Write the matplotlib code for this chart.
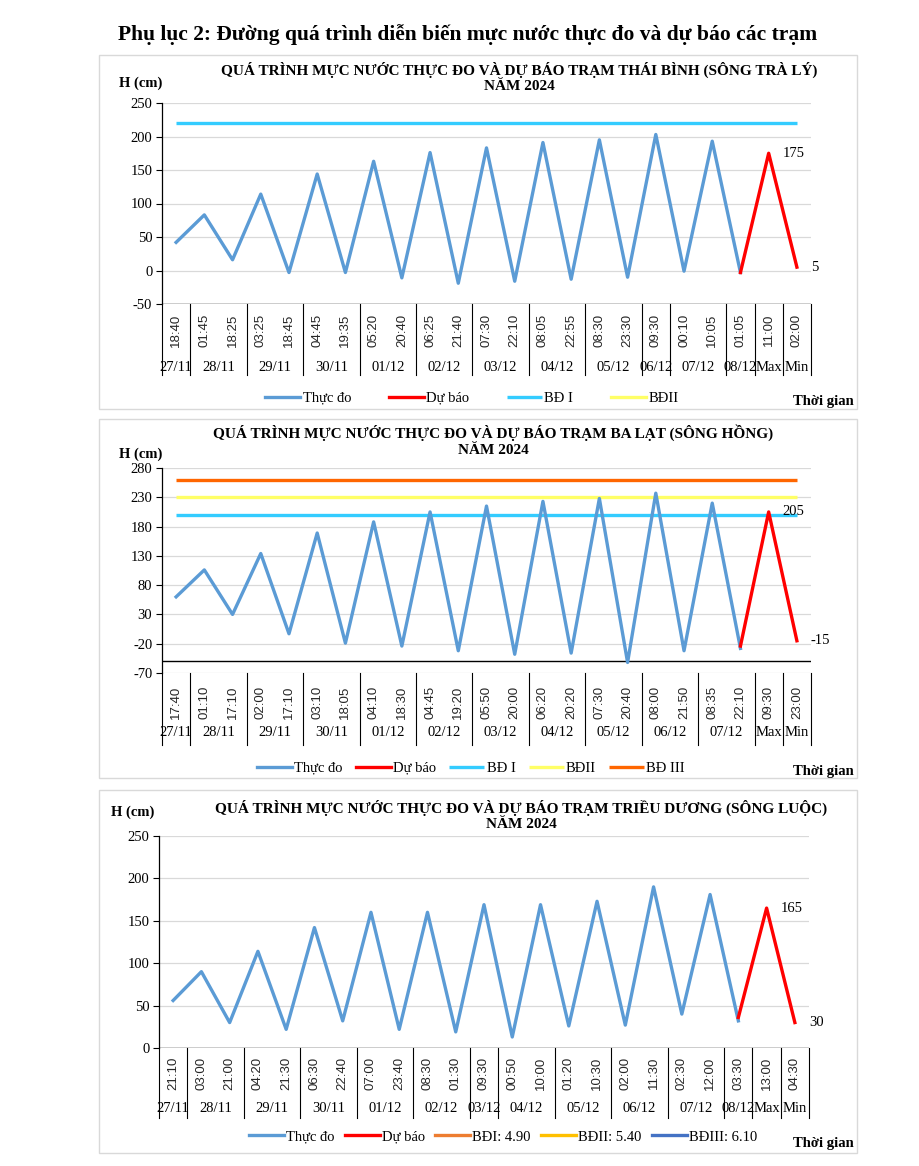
import matplotlib
matplotlib.use('Agg')
import matplotlib.pyplot as plt
from matplotlib.lines import Line2D
from matplotlib.patches import Rectangle
from matplotlib.transforms import blended_transform_factory

W, H, DPI = 920, 1166, 100
SERIF = ['Liberation Serif', 'DejaVu Serif']
SANS = ['Liberation Sans', 'DejaVu Sans']

C_MEAS = '#5B9BD5'
C_FC = '#FF0000'

# ---------------- Chart 1: Thái Bình ----------------
c1_times = ['18:40', '01:45', '18:25', '03:25', '18:45', '04:45', '19:35', '05:20',
            '20:40', '06:25', '21:40', '07:30', '22:10', '08:05', '22:55', '08:30',
            '23:30', '09:30', '00:10', '10:05', '01:05', '11:00', '02:00']
c1_dates = ['27/11', '28/11', '29/11', '30/11', '01/12', '02/12', '03/12', '04/12',
            '05/12', '06/12', '07/12', '08/12', 'Max', 'Min']
c1_date_sizes = [1, 2, 2, 2, 2, 2, 2, 2, 2, 1, 2, 1, 1, 1]
c1_measured = [42, 83, 16, 114, -3, 144, -3, 163, -11, 176, -19, 183, -16, 191, -13,
               195, -10, 203, -1, 193, -3]
c1_forecast = [-3, 175, 5]
c1_bd = [('BĐ I', 220, '#33CCFF')]
c1_legend_only = [('BĐII', '#FFFF66')]

# ---------------- Chart 2: Ba Lạt ----------------
c2_times = ['17:40', '01:10', '17:10', '02:00', '17:10', '03:10', '18:05', '04:10',
            '18:30', '04:45', '19:20', '05:50', '20:00', '06:20', '20:20', '07:30',
            '20:40', '08:00', '21:50', '08:35', '22:10', '09:30', '23:00']
c2_dates = ['27/11', '28/11', '29/11', '30/11', '01/12', '02/12', '03/12', '04/12',
            '05/12', '06/12', '07/12', 'Max', 'Min']
c2_date_sizes = [1, 2, 2, 2, 2, 2, 2, 2, 2, 2, 2, 1, 1]
c2_measured = [60, 106, 30, 134, -3, 169, -19, 188, -24, 205, -32, 215, -38, 223, -36,
               228, -52, 237, -32, 220, -28]
c2_forecast = [-24, 205, -15]
c2_bd = [('BĐ I', 200, '#33CCFF'), ('BĐII', 230, '#FFFF66'), ('BĐ III', 260, '#FF6600')]
c2_legend_only = []

# ---------------- Chart 3: Triều Dương ----------------
c3_times = ['21:10', '03:00', '21:00', '04:20', '21:30', '06:30', '22:40', '07:00',
            '23:40', '08:30', '01:30', '09:30', '00:50', '10:00', '01:20', '10:30',
            '02:00', '11:30', '02:30', '12:00', '03:30', '13:00', '04:30']
c3_dates = ['27/11', '28/11', '29/11', '30/11', '01/12', '02/12', '03/12', '04/12',
            '05/12', '06/12', '07/12', '08/12', 'Max', 'Min']
c3_date_sizes = [1, 2, 2, 2, 2, 2, 1, 2, 2, 2, 2, 1, 1, 1]
c3_measured = [56, 90, 30, 114, 22, 142, 32, 160, 22, 160, 19, 169, 13, 169, 26, 173,
               27, 190, 40, 181, 32]
c3_forecast = [36, 165, 30]
c3_bd = []
c3_legend_only = [('BĐI: 4.90', '#ED7D31'), ('BĐII: 5.40', '#FFC000'), ('BĐIII: 6.10', '#4472C4')]

fig = plt.figure(figsize=(W / DPI, H / DPI), dpi=DPI)


def fx(x):
    return x / W


def fy(y):
    return 1 - y / H


fig.text(fx(468), fy(35), 'Phụ lục 2: Đường quá trình diễn biến mực nước thực đo và dự báo các trạm',
         family=SERIF, fontsize=15.5, fontweight='bold', ha='center', va='center')


def chart(box, axpx, title1, title_x, title_y, times, dates, sizes, measured, forecast,
          bds, legend_only, ylim, yticks, axis_line, hpos, legend_xy, colsp, tg_y,
          time_y, date_y, sep_bottom):
    x0, y0, x1, y1 = box
    fig.add_artist(Rectangle((fx(x0), fy(y1)), (x1 - x0) / W, (y1 - y0) / H,
                             transform=fig.transFigure, fill=False, ec='#D9D9D9', lw=1.0))
    l, t, r, b = axpx
    ax = fig.add_axes([fx(l), fy(b), (r - l) / W, (b - t) / H])
    n = len(times)
    ax.set_xlim(-0.5, n - 0.5)
    ax.set_ylim(*ylim)
    ax.set_yticks(yticks)
    ax.set_yticklabels([str(v) for v in yticks], family=SERIF, fontsize=10.5)
    ax.tick_params(axis='y', length=4, width=0.8, pad=3, color='black')
    ax.set_xticks([])
    for s in ['top', 'right', 'bottom']:
        ax.spines[s].set_visible(False)
    ax.spines['left'].set_linewidth(0.9)
    for v in yticks:
        if v != axis_line:
            ax.axhline(v, color='#D9D9D9', lw=0.9, zorder=0)
    ax.axhline(axis_line, color='black', lw=1.0, zorder=1)
    xs = list(range(n))
    handles = []
    nm = len(measured)
    hm, = ax.plot(xs[:nm], measured, color=C_MEAS, lw=2.4, solid_joinstyle='round', zorder=3)
    hf, = ax.plot(xs[nm - 1:nm - 1 + len(forecast)], forecast, color=C_FC, lw=2.4,
                  solid_joinstyle='round', zorder=4)
    handles += [(hm, 'Thực đo'), (hf, 'Dự báo')]
    for name, val, col in bds:
        h, = ax.plot(xs, [val] * n, color=col, lw=2.4, solid_capstyle='butt', zorder=2)
        handles.append((h, name))
    for name, col in legend_only:
        handles.append((Line2D([], [], color=col, lw=2.4), name))
    # annotations
    ax.annotate(str(forecast[1]), (xs[nm], forecast[1]), xytext=(14, 0), textcoords='offset pixels',
                family=SERIF, fontsize=10.5, va='center', ha='left')
    ax.annotate(str(forecast[2]), (xs[nm + 1], forecast[2]), xytext=(14, 0), textcoords='offset pixels',
                family=SERIF, fontsize=10.5, va='center', ha='left')
    # category labels
    tr = blended_transform_factory(ax.transData, fig.transFigure)
    for i, tl in enumerate(times):
        ax.text(i, fy(time_y), tl, transform=tr, rotation=90, family=SANS, fontsize=9.5,
                ha='center', va='center', color='#262626', clip_on=False)
    pos = -0.5
    bounds = [pos]
    for d, s in zip(dates, sizes):
        ax.text(pos + s / 2, fy(date_y), d, transform=tr, family=SERIF, fontsize=10.5,
                ha='center', va='center', clip_on=False)
        pos += s
        bounds.append(pos)
    for bx in bounds:
        ax.plot([bx, bx], [fy(b), fy(sep_bottom)], transform=tr, color='black', lw=0.8,
                clip_on=False)
    # titles
    fig.text(fx(title_x), fy(title_y[0]), title1, family=SERIF, fontsize=11, fontweight='bold',
             ha='center', va='center')
    fig.text(fx(title_x), fy(title_y[1]), 'NĂM 2024', family=SERIF, fontsize=11, fontweight='bold',
             ha='center', va='center')
    fig.text(fx(hpos[0]), fy(hpos[1]), 'H (cm)', family=SERIF, fontsize=10.5, fontweight='bold',
             ha='left', va='center')
    fig.text(fx(793), fy(tg_y), 'Thời gian', family=SERIF, fontsize=10.5, fontweight='bold',
             ha='left', va='center')
    fig.legend([h for h, _ in handles], [lab for _, lab in handles], loc='center',
               bbox_to_anchor=(fx(legend_xy[0]), fy(legend_xy[1])), ncol=len(handles),
               frameon=False, prop={'family': SERIF, 'size': 10.5}, handlelength=2.4,
               handletextpad=0.15, columnspacing=colsp)
    return ax


chart((99, 55, 857, 409), (162, 103, 811, 304),
      'QUÁ TRÌNH MỰC NƯỚC THỰC ĐO VÀ DỰ BÁO TRẠM THÁI BÌNH (SÔNG TRÀ LÝ)', 519, (70, 87),
      c1_times, c1_dates, c1_date_sizes, c1_measured, c1_forecast, c1_bd, c1_legend_only,
      (-50, 250), [-50, 0, 50, 100, 150, 200, 250], -50, (119, 83), (472, 398), 2.6, 401,
      330, 368, 375)

chart((99, 419, 857, 778), (162, 468, 811, 673),
      'QUÁ TRÌNH MỰC NƯỚC THỰC ĐO VÀ DỰ BÁO TRẠM BA LẠT (SÔNG HỒNG)', 493, (433, 451),
      c2_times, c2_dates, c2_date_sizes, c2_measured, c2_forecast, c2_bd, c2_legend_only,
      (-70, 280), [-70, -20, 30, 80, 130, 180, 230, 280], -50, (119, 454), (471, 768), 0.9, 771,
      702, 733, 745)

chart((99, 790, 857, 1153), (159, 836, 809, 1048),
      'QUÁ TRÌNH MỰC NƯỚC THỰC ĐO VÀ DỰ BÁO TRẠM TRIỀU DƯƠNG (SÔNG LUỘC)', 521, (808, 825),
      c3_times, c3_dates, c3_date_sizes, c3_measured, c3_forecast, c3_bd, c3_legend_only,
      (0, 250), [0, 50, 100, 150, 200, 250], 0, (111, 812), (503, 1137), 0.7, 1143,
      1073, 1108, 1118)

fig.savefig('out.png', dpi=DPI)
